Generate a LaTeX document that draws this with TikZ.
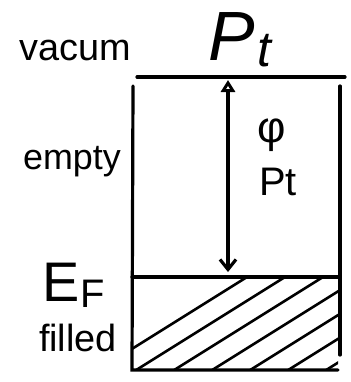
\documentclass[tikz,border=0pt]{standalone}
\usepackage{fontspec}
\setmainfont{Liberation Sans}
\usetikzlibrary{arrows.meta}
\begin{document}
\begin{tikzpicture}[x=1bp,y=-1bp,
  edge/.style={line width=3.2bp,line cap=round},
  hatch/.style={line width=2.6bp,line cap=round},
  lbl/.style={inner sep=0pt,font=\fontsize{36}{38}\selectfont}]
\useasboundingbox (0,0) rectangle (351,382);
% box
\coordinate (vl) at (137,77);
\coordinate (vr) at (345,77);
\coordinate (tl) at (133,86);
\coordinate (tr) at (340,86);
\coordinate (fl) at (132,277);
\coordinate (fr) at (340,277);
\coordinate (bl) at (132,370);
\coordinate (br) at (338,370);
\draw[edge] (vl) -- (vr);
\draw[edge] (tl) -- (bl) -- (br);
\draw[edge] (tr) -- (340,355);
\draw[edge] (fl) -- (fr);
% hatch
\begin{scope}
\clip (fl) rectangle (br);
\foreach \s in {0,38,...,400}{
  \draw[hatch] (95+\s,372) -- (95+\s+160,272);
}
\end{scope}
% arrow
\coordinate (at) at (228,80);
\coordinate (ab) at (228,272);
\draw[edge,{Triangle[open,length=12bp,width=14bp]}-{Straight Barb[length=10bp,width=16bp]}] (at) -- (ab);
% labels
\node[lbl,font=\fontsize{70}{72}\selectfont\itshape] (pt) at (240,40) {P\kern3pt\raisebox{-6pt}{\fontsize{50}{50}\selectfont t}};
\node[lbl,font=\fontsize{38}{40}\selectfont] (vac) at (75,50) {vacum};
\node[lbl] (emp) at (72,162) {empty};
\node[lbl,font=\fontsize{44}{46}\selectfont] (phi) at (272,135) {φ};
\node[lbl,font=\fontsize{40}{42}\selectfont] (ptb) at (278,182) {Pt};
\node[lbl,font=\fontsize{56}{58}\selectfont] (ef) at (74,285) {E\kern1pt\raisebox{-6pt}{\fontsize{40}{40}\selectfont F}};
\node[lbl,font=\fontsize{38}{40}\selectfont] (fil) at (78,338) {filled};
\end{tikzpicture}
\end{document}
